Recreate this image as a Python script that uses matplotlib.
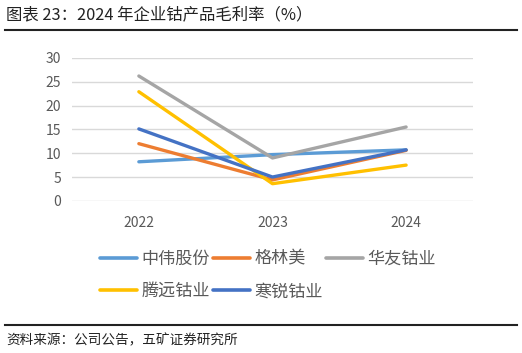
import matplotlib
matplotlib.use("Agg")
import matplotlib.pyplot as plt
from matplotlib.lines import Line2D

plt.rcParams['font.family'] = ['Noto Sans CJK SC', 'DejaVu Sans']

years = ['2022', '2023', '2024']
series_names = ['中伟股份', '格林美', '华友钴业', '腾远钴业', '寒锐钴业']
zhongwei = [8.2, 9.7, 10.7]
gem = [12.0, 4.4, 10.6]
huayou = [26.2, 9.0, 15.5]
tengyuan = [22.9, 3.6, 7.5]
hanrui = [15.1, 5.0, 10.7]
colors = ['#5B9BD5', '#ED7D31', '#A5A5A5', '#FFC000', '#4472C4']

fig = plt.figure(figsize=(5.22, 3.53), dpi=100)
ax = fig.add_axes([0.138, 0.431, 0.768, 0.405])

x = list(range(len(years)))
for name, vals, c in zip(series_names, [zhongwei, gem, huayou, tengyuan, hanrui], colors):
    ax.plot(x, vals, color=c, lw=2.4, solid_capstyle='round', label=name)

ax.set_xlim(-0.5, 2.5)
ax.set_ylim(0, 30)
ax.set_yticks(range(0, 31, 5))
ax.set_xticks(x)
ax.set_xticklabels(years)
ax.grid(axis='y', color='#D9D9D9', lw=1)
ax.set_axisbelow(True)
for s in ax.spines.values():
    s.set_visible(False)
ax.tick_params(length=0, labelsize=10, colors='#595959', pad=8)
ax.tick_params(axis='x', pad=11)

# legend fills column by column, so reorder to get row-wise layout
order = [0, 3, 1, 4, 2]
handles = [Line2D([], [], color=colors[i], lw=2.6, solid_capstyle='round') for i in order]
labels = [series_names[i] for i in order]
leg = fig.legend(handles, labels, ncol=3, loc='upper left',
                 bbox_to_anchor=(0.178, 0.312), frameon=False,
                 fontsize=12.3, handlelength=2.2, handletextpad=0.25,
                 columnspacing=0.15, labelspacing=0.85, borderaxespad=0)
for t in leg.get_texts():
    t.set_color('#595959')

fig.text(0.012, 0.957, '图表 23：2024 年企业钴产品毛利率（%）', fontsize=11.8,
         color='#222222', va='center')
fig.add_artist(Line2D([0.01, 0.99], [0.915, 0.915], color='#222222', lw=1.5))
fig.add_artist(Line2D([0.01, 0.99], [0.08, 0.08], color='#222222', lw=1.5))
fig.text(0.012, 0.037, '资料来源：公司公告，五矿证券研究所', fontsize=9.8,
         color='#222222', va='center')

fig.savefig('out.png', dpi=100)
